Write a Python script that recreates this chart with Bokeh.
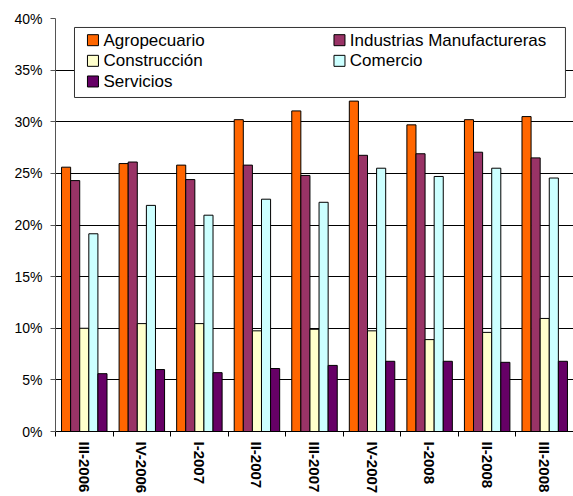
import math
import numpy as np
from bokeh.plotting import figure
from bokeh.models import Range1d, FixedTicker, PrintfTickFormatter, CustomJSTickFormatter
from bokeh.core.properties import value
from bokeh.embed import file_html
from bokeh.resources import INLINE

# Quarterly share (%) by economic sector
periods = ["III-2006", "IV-2006", "I-2007", "II-2007", "III-2007",
           "IV-2007", "I-2008", "II-2008", "III-2008"]
sectors = ["Agropecuario", "Industrias Manufactureras", "Construcción",
           "Comercio", "Servicios"]
agropecuario = [25.6, 25.95, 25.8, 30.2, 31.05, 32.0, 29.7, 30.2, 30.5]
industrias = [24.3, 26.1, 24.4, 25.8, 24.8, 26.75, 26.9, 27.05, 26.5]
construccion = [10.0, 10.45, 10.45, 9.75, 9.9, 9.75, 8.9, 9.6, 10.95]
comercio = [19.15, 21.9, 20.95, 22.5, 22.2, 25.5, 24.7, 25.5, 24.55]
servicios = [5.6, 6.0, 5.7, 6.1, 6.4, 6.8, 6.8, 6.7, 6.8]
y_ticks = [0, 5, 10, 15, 20, 25, 30, 35, 40]

series = [agropecuario, industrias, construccion, comercio, servicios]
colors = ["#FF6600", "#993366", "#FFFFCC", "#CCFFFF", "#660066"]

FONT = "Liberation Sans"
n = len(periods)

p = figure(width=573, height=496,
           x_range=Range1d(0, n), y_range=Range1d(0, 40),
           output_backend="svg", toolbar_location=None,
           min_border_left=55, min_border_right=0,
           min_border_top=18, min_border_bottom=65)
p.outline_line_color = None
p.background_fill_color = "white"

# grid
p.xgrid.grid_line_color = None
p.ygrid.ticker = FixedTicker(ticks=y_ticks)
p.ygrid.grid_line_color = "#000000"
p.ygrid.grid_line_width = 1

# y axis
yax = p.yaxis[0]
yax.ticker = FixedTicker(ticks=y_ticks)
yax.formatter = PrintfTickFormatter(format="%d%%")
yax.axis_line_color = "#555555"
yax.major_tick_line_color = "#555555"
yax.major_tick_out = 5
yax.major_tick_in = 0
yax.minor_tick_line_color = None
yax.major_label_standoff = 8
yax.major_label_text_font = FONT
yax.major_label_text_font_size = "14px"
yax.major_label_text_color = "black"

# x axis: category labels centred, tick marks on the boundaries
xax = p.xaxis[0]
xax.ticker = FixedTicker(ticks=[i + 0.5 for i in range(n)],
                         minor_ticks=list(range(n + 1)))
xax.formatter = CustomJSTickFormatter(args=dict(labels=periods),
                                      code="return labels[Math.floor(tick)] || '';")
xax.axis_line_color = "black"
xax.major_tick_line_color = None
xax.major_tick_out = 5
xax.major_tick_in = 0
xax.minor_tick_line_color = "black"
xax.minor_tick_out = 5
xax.minor_tick_in = 0
xax.major_label_orientation = -math.pi / 2
xax.major_label_standoff = 5
xax.major_label_text_font = FONT
xax.major_label_text_font_style = "bold"
xax.major_label_text_font_size = "15px"
xax.major_label_text_color = "black"

# clustered bars
bw = 0.158
centers = np.arange(n) + 0.5
for k, (name, vals, color) in enumerate(zip(sectors, series, colors)):
    p.vbar(x=centers + (k - 2) * bw, top=vals, width=bw,
           fill_color=color, line_color="black", line_width=1)

# legend box (two columns, row-major order)
p.quad(left=[0.33], right=[8.86], top=[39.13], bottom=[32.35],
       fill_color="white", line_color="#333333", line_width=1)
col_swatch = [0.651, 4.934]
col_text = [0.834, 5.113]
row_y = [37.9, 35.9, 33.9]
for k, (name, color) in enumerate(zip(sectors, colors)):
    r, c = divmod(k, 2)
    p.scatter(x=[col_swatch[c]], y=[row_y[r]], marker="square", size=11,
              fill_color=color, line_color="black", line_width=1)
    p.text(x=[col_text[c]], y=[row_y[r]], text=[name],
           text_font=value(FONT), text_font_size="17px",
           text_baseline="middle", text_align="left", text_color="black")

open("out.html", "w").write(file_html(p, INLINE))
